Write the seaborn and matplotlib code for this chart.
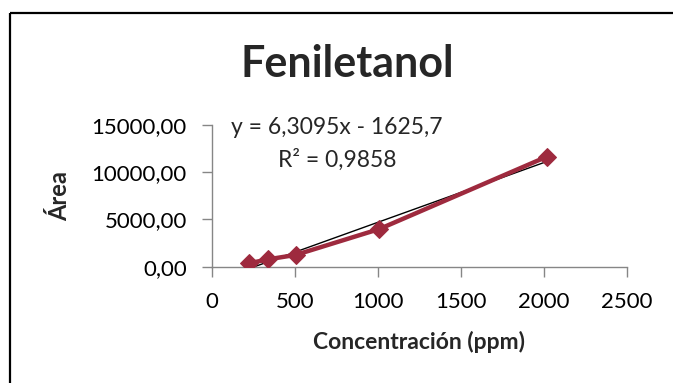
import matplotlib
matplotlib.use("Agg")
import matplotlib.pyplot as plt
from matplotlib.lines import Line2D
import numpy as np
import pandas as pd
import seaborn as sns

# Calibration data: concentration (ppm) vs. peak area
concentracion = [225, 340, 505, 1010, 2020]
area = [360, 780, 1240, 3980, 11630]

# Linear trendline coefficients
pendiente = 6.3095
intercepto = -1625.7
r2 = 0.9858

x_ticks = [0, 500, 1000, 1500, 2000, 2500]
y_ticks = [0, 5000, 10000, 15000]

sns.set_theme(style="white")
plt.rcParams["font.family"] = ["Lato", "DejaVu Sans"]

W, H = 673, 383
fig = plt.figure(figsize=(W / 100, H / 100), dpi=100)
fig.patch.set_facecolor("white")
fig.patch.set_edgecolor("white")
fig.patch.set_linewidth(0)
ax = fig.add_axes([211.7 / W, (H - 266.7) / H, 415 / W, 142 / H])

df = pd.DataFrame({"Concentración": concentracion, "Área": area})

# Trendline over the measured range
xt = np.array([min(concentracion), max(concentracion)])
ax.plot(xt, pendiente * xt + intercepto, color="black", lw=1.0, zorder=2)

sns.lineplot(data=df, x="Concentración", y="Área", ax=ax, color="#9E2A3E",
             lw=3.2, marker="D", markersize=9, markeredgecolor="#9E2A3E",
             zorder=3)

ax.set_xlim(0, 2500)
ax.set_ylim(0, 15000)
ax.set_xticks(x_ticks)
ax.set_yticks(y_ticks)
ax.set_xticklabels([str(v) for v in x_ticks])
ax.set_yticklabels([f"{v:.2f}".replace(".", ",") for v in y_ticks])
ax.tick_params(axis="both", direction="out", length=7, width=1,
               color="#868686", labelsize=16, pad=11, labelcolor="black")
ax.tick_params(axis="x", bottom=True)
ax.tick_params(axis="y", left=True)
for s in ["top", "right"]:
    ax.spines[s].set_visible(False)
for s in ["left", "bottom"]:
    ax.spines[s].set_color("#868686")
    ax.spines[s].set_linewidth(1)
ax.set_xlabel("")
ax.set_ylabel("")
ax.patch.set_alpha(0)

# Title and axis labels
fig.text(347.5 / W, (H - 77) / H, "Feniletanol", ha="center", va="baseline",
         fontsize=31, fontweight="bold")
fig.text(419 / W, (H - 342) / H, "Concentración (ppm)", ha="center",
         va="center", fontsize=16.5, fontweight="bold")
fig.text(60 / W, (H - 196) / H, "Área", ha="center", va="center",
         rotation=90, fontsize=17, fontweight="bold")

# Trendline equation
eq = f"y = {pendiente:.4f}x - {abs(intercepto):.1f}".replace(".", ",")
fig.text(337 / W, (H - 128) / H, eq, ha="center", va="center", fontsize=16.5)
fig.text(337 / W, (H - 160) / H, f"R² = {r2:.4f}".replace(".", ","),
         ha="center", va="center", fontsize=16.5)

# Chart area frame (top and left edges; the rest runs past the canvas)
x0, y0 = 10 / W, (H - 13) / H
fig.lines.append(Line2D([x0, 1.0], [y0, y0], transform=fig.transFigure,
                        color="black", lw=1.6, solid_capstyle="butt"))
fig.lines.append(Line2D([x0, x0], [y0, 0.0], transform=fig.transFigure,
                        color="black", lw=1.6, solid_capstyle="butt"))

fig.savefig("out.png", dpi=100, facecolor="white")
